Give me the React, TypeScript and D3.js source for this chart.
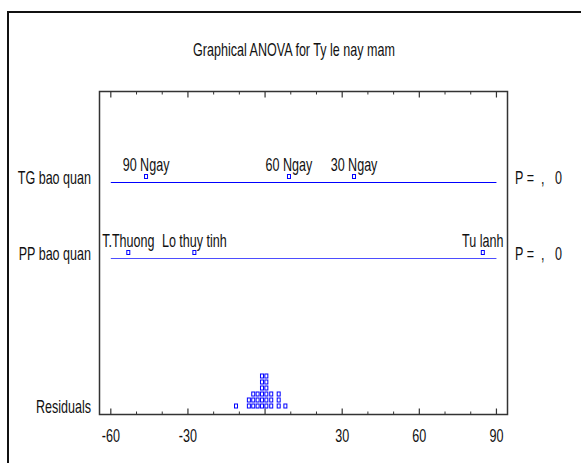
import React from 'react';
import * as d3 from 'd3';

// Graphical ANOVA - effects per level, with residuals at the bottom
const title = 'Graphical ANOVA for Ty le nay mam';
const factorNames = ['TG bao quan', 'PP bao quan'];
const tgLevels = ['90 Ngay', '60 Ngay', '30 Ngay'];
const tgEffects = [-46.3, 9.3, 34.6];
const ppLevels = ['T.Thuong', 'Lo thuy tinh', 'Tu lanh'];
const ppEffects = [-53.2, -27.5, 84.7];
const pValues = ['0', '0'];
const residuals = [
  -11.3,
  -6.3, -6.3,
  -4.6, -4.6, -4.6,
  -2.9, -2.9, -2.9,
  -1.2, -1.2, -1.2, -1.2, -1.2, -1.2,
  0.5, 0.5, 0.5, 0.5, 0.5, 0.5,
  2.4, 2.4, 2.4,
  5.3, 5.3, 5.3,
  7.9,
];
const majorTicks = [-60, -30, 0, 30, 60, 90];
const tickLabels = ['-60', '-30', '', '30', '60', '90'];

const W = 581;
const H = 463;
const FS = 17.7;
const SX = 0.71;
const FONT = '"Liberation Sans", Arial, sans-serif';

const plot = { left: 99.5, right: 507.5, top: 91.5, bottom: 414.5 };

const T = ({ x, y, anchor = 'start', children }: any) => (
  <text
    transform={`translate(${x},${y}) scale(${SX},1)`}
    textAnchor={anchor}
    fontFamily={FONT}
    fontSize={FS}
    fill="#111"
  >
    {children}
  </text>
);

const App = () => {
  const x = d3.scaleLinear().domain([-64.4, 94.3]).range([plot.left, plot.right]);
  const minorTicks = d3.range(-60, 91, 10).filter((v) => !majorTicks.includes(v));

  const rows = [
    { name: factorNames[0], levels: tgLevels, effects: tgEffects, y: 182.5, color: '#0000ff' },
    { name: factorNames[1], levels: ppLevels, effects: ppEffects, y: 258.5, color: '#4d4dff' },
  ];

  // stack residuals with identical values
  const counts = new Map<number, number>();
  const dots = residuals.map((r) => {
    const k = counts.get(r) || 0;
    counts.set(r, k + 1);
    return { v: r, k };
  });
  const resBase = 406;
  const resStep = 6;

  return (
    <svg width={W} height={H} style={{ position: 'absolute', left: 0, top: 0, background: '#fff' }}>
      {/* outer frame */}
      <line x1={8} y1={12} x2={W} y2={12} stroke="#111" strokeWidth={2} />
      <line x1={8} y1={11} x2={8} y2={H} stroke="#111" strokeWidth={2} />

      <T x={294} y={56} anchor="middle">{title}</T>

      {/* plot box */}
      <rect
        x={plot.left}
        y={plot.top}
        width={plot.right - plot.left}
        height={plot.bottom - plot.top}
        fill="none"
        stroke="#333"
        strokeWidth={1.5}
      />
      {majorTicks.map((v) => (
        <g key={'M' + v}>
          <line x1={x(v)} x2={x(v)} y1={plot.top} y2={plot.top + 6} stroke="#333" strokeWidth={1.2} />
          <line x1={x(v)} x2={x(v)} y1={plot.bottom} y2={plot.bottom - 6} stroke="#333" strokeWidth={1.2} />
        </g>
      ))}
      {minorTicks.map((v) => (
        <g key={'m' + v}>
          <line x1={x(v)} x2={x(v)} y1={plot.top} y2={plot.top + 3} stroke="#333" strokeWidth={1} />
          <line x1={x(v)} x2={x(v)} y1={plot.bottom} y2={plot.bottom - 3} stroke="#333" strokeWidth={1} />
        </g>
      ))}
      {majorTicks.map((v, i) => (
        <T key={'l' + v} x={x(v)} y={441.5} anchor="middle">{tickLabels[i]}</T>
      ))}

      {rows.map((row, ri) => (
        <g key={row.name}>
          <T x={91} y={row.y + 1} anchor="end">{row.name}</T>
          <line x1={x(-60)} x2={x(90)} y1={row.y} y2={row.y} stroke={row.color} strokeWidth={1.2} />
          {row.levels.map((lv, i) => (
            <g key={lv}>
              <T x={x(row.effects[i])} y={row.y - 11.5} anchor="middle">{lv}</T>
              <rect
                x={x(row.effects[i]) - 1.5}
                y={row.y - 8}
                width={3}
                height={4}
                fill="#fff"
                stroke="#0000ff"
                strokeWidth={1}
              />
            </g>
          ))}
          <T x={515} y={row.y + 1} anchor="start">P =</T>
          <T x={541} y={row.y + 1} anchor="start">,</T>
          <T x={555} y={row.y + 1} anchor="start">{pValues[ri]}</T>
        </g>
      ))}

      <T x={91} y={413} anchor="end">Residuals</T>
      {dots.map((d, i) => (
        <rect
          key={i}
          x={x(d.v) - 1.5}
          y={resBase - d.k * resStep - 2}
          width={3}
          height={4}
          fill="#fff"
          stroke="#0000ff"
          strokeWidth={1}
        />
      ))}
    </svg>
  );
};

export default App;
